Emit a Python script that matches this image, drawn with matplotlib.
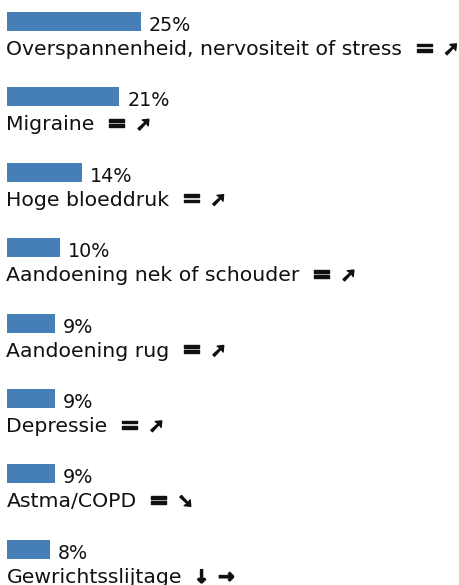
import matplotlib
matplotlib.use('Agg')
import matplotlib.pyplot as plt
import matplotlib.patheffects as pe

# Gegevens
categories = [
    'Overspannenheid, nervositeit of stress',
    'Migraine',
    'Hoge bloeddruk',
    'Aandoening nek of schouder',
    'Aandoening rug',
    'Depressie',
    'Astma/COPD',
    'Gewrichtsslijtage',
]
values = [25, 21, 14, 10, 9, 9, 9, 8]
trend_a = ['=', '=', '=', '=', '=', '=', '=', '\u2193']
trend_b = ['\u279a', '\u279a', '\u279a', '\u279a', '\u279a', '\u279a', '\u2798', '\u2192']

BAR_COLOR = '#467fb8'
PX_PER_PCT = 5.38
ROW_PX = 75.4
X0_PX = 6.5
Y0_PX = 21.5

fig = plt.figure(figsize=(4.6, 5.85), dpi=100)
ax = fig.add_axes([0, 0, 1, 1])
ax.set_xlim(-X0_PX / PX_PER_PCT, (460 - X0_PX) / PX_PER_PCT)
ax.set_ylim((585 - Y0_PX) / ROW_PX, -Y0_PX / ROW_PX)
ax.axis('off')

bar_h = 19 / ROW_PX
ypos = list(range(len(categories)))
ax.barh(ypos, values, height=bar_h, color=BAR_COLOR, left=0)

fs = 14.7
fig.canvas.draw()
renderer = fig.canvas.get_renderer()
inv = ax.transData.inverted()
heavy = [pe.withStroke(linewidth=1.0, foreground='#111111')]


def right_edge(t):
    bb = t.get_window_extent(renderer)
    return inv.transform((bb.x1, bb.y0))[0]


for y, cat, v, ta, tb in zip(ypos, categories, values, trend_a, trend_b):
    ax.text(v + 8 / PX_PER_PCT, y + 9.5 / ROW_PX, f'{v}%', fontsize=13.8,
            va='baseline', ha='left', color='#111111')
    base = y + 33.5 / ROW_PX
    t = ax.text(0, base, cat, fontsize=fs, va='baseline',
                ha='left', color='#111111')
    x1 = right_edge(t)
    s1 = ax.text(x1 + 12 / PX_PER_PCT, base, ta, fontsize=17 if ta == '=' else 13,
                 fontweight='bold', va='baseline', ha='left',
                 color='#111111', path_effects=heavy)
    x2 = right_edge(s1)
    ax.text(x2 + 9 / PX_PER_PCT, base, tb, fontsize=14,
            fontweight='bold', va='baseline', ha='left', color='#111111',
            path_effects=heavy)

fig.savefig('out.png', dpi=100)
